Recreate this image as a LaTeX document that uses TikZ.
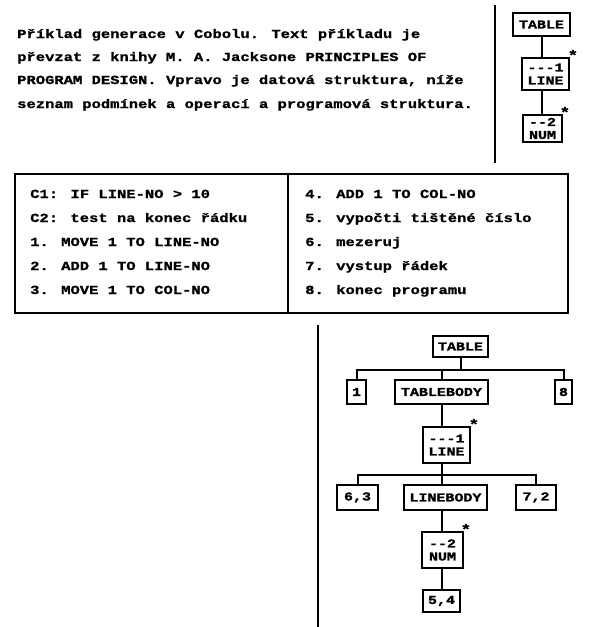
\documentclass[tikz,border=0pt]{standalone}
\usepackage{fontspec}
\newfontfamily\tw[FakeStretch=1.25,FakeBold=1.2]{Liberation Mono Bold}
\begin{document}
\begin{tikzpicture}[x=1pt,y=-1pt,
  txt/.style={anchor=base west,inner sep=0pt,font=\tw\fontsize{12.4}{14}\selectfont},
  bx/.style={draw,line width=1.8pt,inner sep=0pt,align=center,font=\tw\fontsize{12}{13}\selectfont},
  conn/.style={draw,line width=2pt},
  sepline/.style={draw,line width=2.2pt},
  star/.style={inner sep=0pt,font=\tw\fontsize{14}{14}\selectfont}]
\useasboundingbox (0,0) rectangle (589,627);
% paragraph
\node[txt] (p1) at (17,38) {Příklad generace v Cobolu. Text příkladu je};
\node[txt] (p2) at (17,61) {převzat z knihy M. A. Jacksone PRINCIPLES OF};
\node[txt] (p3) at (17,84) {PROGRAM DESIGN. Vpravo je datová struktura, níže};
\node[txt] (p4) at (17,108) {seznam podmínek a operací a programová struktura.};
% top-right data structure
\coordinate (v1a) at (495,5);
\coordinate (v1b) at (495,163);
\path[sepline] (v1a) -- (v1b);
\node[bx,minimum width=57pt,minimum height=23pt] (ta) at (541.5,24.5) {TABLE};
\node[bx,minimum width=47pt,minimum height=32pt] (la) at (545.5,74) {---1\\LINE};
\node[bx,minimum width=39pt,minimum height=27pt] (na) at (542.5,128.5) {--2\\NUM};
\path[conn] (ta.south) -- (ta.south |- la.north);
\path[conn] (ta.south |- la.south) -- (ta.south |- na.north);
\node[star] (sa) at (la.north east) [xshift=3pt,yshift=2pt] {*};
\node[star] (sb) at (na.north east) [xshift=2pt,yshift=2pt] {*};
% table
\node[draw,line width=1.4pt,minimum width=553pt,minimum height=139pt,inner sep=0pt] (tbl) at (291.5,243.5) {};
\coordinate (dt) at (288,174);
\coordinate (db) at (288,313);
\draw[line width=1.4pt] (dt) -- (db);
\node[txt] (c1) at (30,198) {C1: IF LINE-NO > 10};
\node[txt] (c2) at (30,222) {C2: test na konec řádku};
\node[txt] (o1) at (30,246) {1. MOVE 1 TO LINE-NO};
\node[txt] (o2) at (30,270) {2. ADD 1 TO LINE-NO};
\node[txt] (o3) at (30,294) {3. MOVE 1 TO COL-NO};
\node[txt] (o4) at (305,198) {4. ADD 1 TO COL-NO};
\node[txt] (o5) at (305,222) {5. vypočti tištěné číslo};
\node[txt] (o6) at (305,246) {6. mezeruj};
\node[txt] (o7) at (305,270) {7. vystup řádek};
\node[txt] (o8) at (305,294) {8. konec programu};
% bottom program structure
\coordinate (v2a) at (318,325);
\coordinate (v2b) at (318,627);
\path[sepline] (v2a) -- (v2b);
\node[bx,minimum width=55pt,minimum height=21pt] (tb) at (460.5,346.5) {TABLE};
\node[bx,minimum width=19pt,minimum height=24pt] (b1) at (356.5,392) {1};
\node[bx,minimum width=93pt,minimum height=24pt] (tbody) at (441.5,392) {TABLEBODY};
\node[bx,minimum width=17pt,minimum height=24pt] (b8) at (563.5,392) {8};
\node[bx,minimum width=47pt,minimum height=36pt] (lb) at (446.5,445) {---1\\LINE};
\node[bx,minimum width=41pt,minimum height=25pt] (b63) at (357.5,497.5) {6,3};
\node[bx,minimum width=83pt,minimum height=25pt] (lbody) at (445.5,497.5) {LINEBODY};
\node[bx,minimum width=40pt,minimum height=25pt] (b72) at (536,497.5) {7,2};
\node[bx,minimum width=41pt,minimum height=36pt] (nb) at (442.5,550) {--2\\NUM};
\node[bx,minimum width=37pt,minimum height=22pt] (b54) at (441.5,601) {5,4};
\node[star] (sc) at (lb.north east) [xshift=3pt,yshift=2pt] {*};
\node[star] (sd) at (nb.north east) [xshift=2pt,yshift=2pt] {*};
\coordinate (h1) at (0,370);
\coordinate (h2) at (0,475);
\path[conn] (tb.south) -- (tb.south |- h1);
\path[conn] (b1.north) -- (b1.north |- h1) -- (b8.north |- h1) -- (b8.north);
\path[conn] (tbody.north |- h1) -- (tbody.north);
\path[conn] (tbody.south) -- (tbody.south |- lb.north);
\path[conn] (b63.north) -- (b63.north |- h2) -- (b72.north |- h2) -- (b72.north);
\path[conn] (tbody.south |- lb.south) -- (tbody.south |- lbody.north);
\path[conn] (tbody.south |- lbody.south) -- (tbody.south |- nb.north);
\path[conn] (tbody.south |- nb.south) -- (tbody.south |- b54.north);
\end{tikzpicture}
\end{document}
